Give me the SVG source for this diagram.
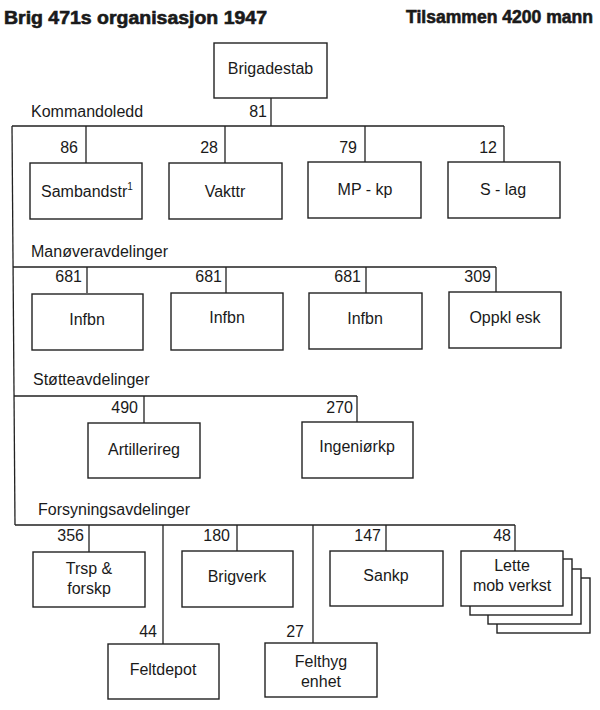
<svg xmlns="http://www.w3.org/2000/svg" width="600" height="710" viewBox="0 0 600 710">
<style>
  .box { fill: #fff; stroke: #222; stroke-width: 1.4; }
  .ln { fill: none; stroke: #222; stroke-width: 1.3; }
  text { font-family: "Liberation Sans", Arial, sans-serif; fill: #1a1a1a; }
  .t { font-size: 16px; text-anchor: middle; }
  .n { font-size: 16px; text-anchor: end; }
  .g { font-size: 16px; }
  .h { font-size: 17.5px; font-weight: bold; stroke: #1a1a1a; stroke-width: 0.6; }
</style>
<rect x="0" y="0" width="600" height="710" fill="#fff"/>
<text class="h" x="4" y="24" textLength="263" lengthAdjust="spacingAndGlyphs">Brig 471s organisasjon 1947</text>
<text class="h" x="406" y="23" textLength="187" lengthAdjust="spacingAndGlyphs">Tilsammen 4200 mann</text>

<g id="connectors">
  <path class="ln" d="M12 126 L15 525"/>
  <path class="ln" d="M271 98 V126 M12 126 H504 M86 126 V163 M225 126 V163 M365 126 V162 M504 126 V162"/>
  <path class="ln" d="M13 267 H496 M87 267 V293 M226 267 V293 M366 267 V293 M496 267 V292"/>
  <path class="ln" d="M14 396 H357 M144 396 V423 M357 396 V422"/>
  <path class="ln" d="M15 525 H515 M89 525 V552 M163 525 V644 M237 525 V551 M313 525 V643 M386 525 V551 M515 525 V551"/>
</g>
<g id="labels">
  <text class="g" x="31" y="117">Kommandoledd</text>
  <text class="g" x="31" y="257">Manøveravdelinger</text>
  <text class="g" x="33" y="385">Støtteavdelinger</text>
  <text class="g" x="38" y="515">Forsyningsavdelinger</text>
  <text class="n" x="267" y="117">81</text>
  <text class="n" x="78" y="153">86</text>
  <text class="n" x="218" y="153">28</text>
  <text class="n" x="357" y="153">79</text>
  <text class="n" x="497" y="153">12</text>
  <text class="n" x="82" y="282">681</text>
  <text class="n" x="222" y="282">681</text>
  <text class="n" x="361" y="282">681</text>
  <text class="n" x="491" y="282">309</text>
  <text class="n" x="138" y="413">490</text>
  <text class="n" x="353" y="413">270</text>
  <text class="n" x="84" y="541">356</text>
  <text class="n" x="230" y="541">180</text>
  <text class="n" x="381" y="541">147</text>
  <text class="n" x="511" y="541">48</text>
  <text class="n" x="157" y="637">44</text>
  <text class="n" x="304" y="637">27</text>
</g>

<g id="brigadestab"><rect class="box" x="214" y="43" width="113" height="55"/><text class="t" x="270.5" y="74">Brigadestab</text></g>

<g id="sambandstr"><rect class="box" x="30" y="163" width="112" height="56"/><text class="g" x="41" y="197">Sambandstr<tspan font-size="10" dy="-7">1</tspan></text></g>
<g id="vakttr"><rect class="box" x="169" y="163" width="113" height="56"/><text class="t" x="225" y="197">Vakttr</text></g>
<g id="mp-kp"><rect class="box" x="308" y="162" width="113" height="56"/><text class="t" x="365" y="195">MP - kp</text></g>
<g id="s-lag"><rect class="box" x="448" y="162" width="112" height="56"/><text class="t" x="503" y="195">S - lag</text></g>

<g id="infbn1"><rect class="box" x="32" y="294" width="111" height="56"/><text class="t" x="87" y="325">Infbn</text></g>
<g id="infbn2"><rect class="box" x="171" y="293" width="112" height="57"/><text class="t" x="227" y="323">Infbn</text></g>
<g id="infbn3"><rect class="box" x="309" y="293" width="113" height="56"/><text class="t" x="365" y="324">Infbn</text></g>
<g id="oppkl-esk"><rect class="box" x="449" y="292" width="112" height="56"/><text class="t" x="505" y="323">Oppkl esk</text></g>

<g id="artillerireg"><rect class="box" x="88" y="423" width="112" height="55"/><text class="t" x="144" y="455">Artillerireg</text></g>
<g id="ingeniorkp"><rect class="box" x="302" y="422" width="111" height="56"/><text class="t" x="357" y="452">Ingeniørkp</text></g>

<g id="trsp-forskp"><rect class="box" x="33" y="552" width="112" height="55"/><text class="t" x="89" y="574">Trsp &amp;</text><text class="t" x="89" y="594">forskp</text></g>
<g id="brigverk"><rect class="box" x="182" y="551" width="111" height="56"/><text class="t" x="237" y="582">Brigverk</text></g>
<g id="sankp"><rect class="box" x="330" y="551" width="113" height="55"/><text class="t" x="386" y="581">Sankp</text></g>
<g id="lette-mob-verkst">
  <rect class="box" x="497" y="578" width="93" height="55"/>
  <rect class="box" x="488" y="569" width="93" height="55"/>
  <rect class="box" x="470" y="559" width="102" height="56"/>
  <rect class="box" x="461" y="551" width="102" height="55"/>
  <text class="t" x="512" y="571">Lette</text>
  <text class="t" x="512" y="591">mob verkst</text>
</g>
<g id="feltdepot"><rect class="box" x="108" y="644" width="111" height="55"/><text class="t" x="163" y="675">Feltdepot</text></g>
<g id="felthyg-enhet"><rect class="box" x="265" y="643" width="112" height="54"/><text class="t" x="321" y="667">Felthyg</text><text class="t" x="321" y="687">enhet</text></g>
</svg>
